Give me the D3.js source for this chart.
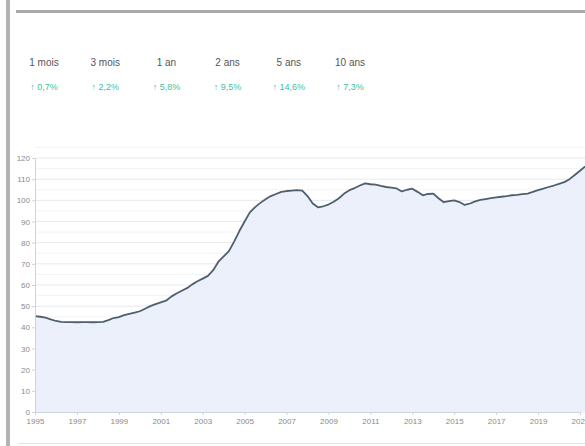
<!DOCTYPE html>
<html><head><meta charset="utf-8">
<script src="https://cdn.jsdelivr.net/npm/d3@7"></script>
<style>
html,body{margin:0;padding:0;background:#fff;overflow:hidden;}
svg{display:block;font-family:"Liberation Sans",Arial,sans-serif;}
</style></head>
<body>
<svg id="c" width="585" height="446"></svg>
<script>
const periodLabels = ["1 mois","3 mois","1 an","2 ans","5 ans","10 ans"];
const periodChanges = ["↑ 0,7%","↑ 2,2%","↑ 5,8%","↑ 9,5%","↑ 14,6%","↑ 7,3%"];
const yTicks = [0,10,20,30,40,50,60,70,80,90,100,110,120];
const xTickYears = [1995,1997,1999,2001,2003,2005,2007,2009,2011,2013,2015,2017,2019,2021];
const dates = [
1995.00,1995.25,1995.50,1995.75,1996.00,1996.25,1996.50,1996.75,1997.00,1997.25,1997.50,1997.75,
1998.00,1998.25,1998.50,1998.75,1999.00,1999.25,1999.50,1999.75,2000.00,2000.25,2000.50,2000.75,
2001.00,2001.25,2001.50,2001.75,2002.00,2002.25,2002.50,2002.75,2003.00,2003.25,2003.50,2003.75,
2004.00,2004.25,2004.50,2004.75,2005.00,2005.25,2005.50,2005.75,2006.00,2006.25,2006.50,2006.75,
2007.00,2007.25,2007.50,2007.75,2008.00,2008.25,2008.50,2008.75,2009.00,2009.25,2009.50,2009.75,
2010.00,2010.25,2010.50,2010.75,2011.00,2011.25,2011.50,2011.75,2012.00,2012.25,2012.50,2012.75,
2013.00,2013.25,2013.50,2013.75,2014.00,2014.25,2014.50,2014.75,2015.00,2015.25,2015.50,2015.75,
2016.00,2016.25,2016.50,2016.75,2017.00,2017.25,2017.50,2017.75,2018.00,2018.25,2018.50,2018.75,
2019.00,2019.25,2019.50,2019.75,2020.00,2020.25,2020.50,2020.75,2021.00,2021.25];
const values = [
45.3,45.0,44.6,43.8,43.0,42.6,42.5,42.5,42.4,42.5,42.5,42.4,
42.5,42.6,43.4,44.4,44.8,45.8,46.4,46.9,47.6,48.8,50.0,51.0,
51.8,52.6,54.5,56.0,57.3,58.5,60.3,61.8,63.0,64.3,67.0,71.0,
73.5,76.0,80.5,85.5,90.0,94.3,96.8,98.8,100.5,102.0,103.0,104.0,
104.4,104.6,104.8,104.6,102.0,98.5,96.7,97.2,98.0,99.3,101.0,103.2,
104.8,105.8,107.0,108.0,107.6,107.4,106.8,106.3,106.0,105.6,104.2,105.0,
105.5,104.0,102.4,103.0,103.2,101.0,99.1,99.6,100.0,99.2,97.8,98.5,
99.5,100.2,100.6,101.0,101.4,101.7,102.0,102.4,102.6,102.9,103.2,104.0,
104.8,105.5,106.3,107.0,107.8,108.6,110.0,112.0,114.0,116.0];

const svg = d3.select("#c");
// frame
svg.append("rect").attr("x",6).attr("y",0).attr("width",4).attr("height",446).attr("fill","#b3b3b3");
svg.append("rect").attr("x",16).attr("y",10).attr("width",580).attr("height",3).attr("fill","#a9a9a9");
svg.append("rect").attr("x",18).attr("y",443).attr("width",580).attr("height",1).attr("fill","#e2e2e2");

// period tabs
const tabX = d3.scalePoint().domain(periodLabels).range([44,350]);
const tabs = svg.append("g");
periodLabels.forEach((p,i)=>{
  tabs.append("text").attr("x",tabX(p)).attr("y",66).attr("text-anchor","middle")
    .attr("font-size",10).attr("fill","#555").text(p);
  tabs.append("text").attr("x",tabX(p)).attr("y",90).attr("text-anchor","middle")
    .attr("font-size",9).attr("fill","#3cbf9f").text(periodChanges[i]);
});

// chart
const x = d3.scaleLinear().domain([1995,2021]).range([35,580]);
const y = d3.scaleLinear().domain([0,120]).range([412,158]);
const plotBottom = 412, plotLeft = 35, plotRight = 600;

const grid = svg.append("g");
d3.range(0,126,5).forEach(v=>{
  grid.append("line").attr("x1",plotLeft).attr("x2",plotRight).attr("y1",y(v)).attr("y2",y(v))
    .attr("stroke", v%10===0 ? "#e6e9ef" : "#f1f3f6").attr("stroke-width",1);
});

const pts = dates.map((d,i)=>[d,values[i]]);
svg.append("path").datum(pts)
  .attr("d", d3.area().x(d=>x(d[0])).y0(plotBottom).y1(d=>y(d[1])))
  .attr("fill","#e9eef9").attr("fill-opacity",0.9);
svg.append("path").datum(pts)
  .attr("d", d3.line().x(d=>x(d[0])).y(d=>y(d[1])))
  .attr("fill","none").attr("stroke","#4e5f6e").attr("stroke-width",1.8).attr("stroke-linejoin","round");

// axes
const yAxis = svg.append("g").attr("transform",`translate(${plotLeft},0)`)
  .call(d3.axisLeft(y).tickValues(yTicks).tickSize(3).tickPadding(2));
yAxis.select(".domain").attr("stroke","#cfd3da");
yAxis.selectAll(".tick line").attr("stroke","#cfd3da");
yAxis.selectAll("text").attr("font-size",8).attr("fill","#8a8a8a").attr("font-family","Liberation Sans, Arial, sans-serif");

const xAxis = svg.append("g").attr("transform",`translate(0,${plotBottom})`)
  .call(d3.axisBottom(x).tickValues(xTickYears).tickFormat(d3.format("d")).tickSize(3).tickPadding(3));
xAxis.select(".domain").attr("stroke","#cfd3da");
xAxis.selectAll(".tick line").attr("stroke","#cfd3da");
xAxis.selectAll("text").attr("font-size",8).attr("fill","#8a8a8a").attr("font-family","Liberation Sans, Arial, sans-serif");
</script>
</body></html>
